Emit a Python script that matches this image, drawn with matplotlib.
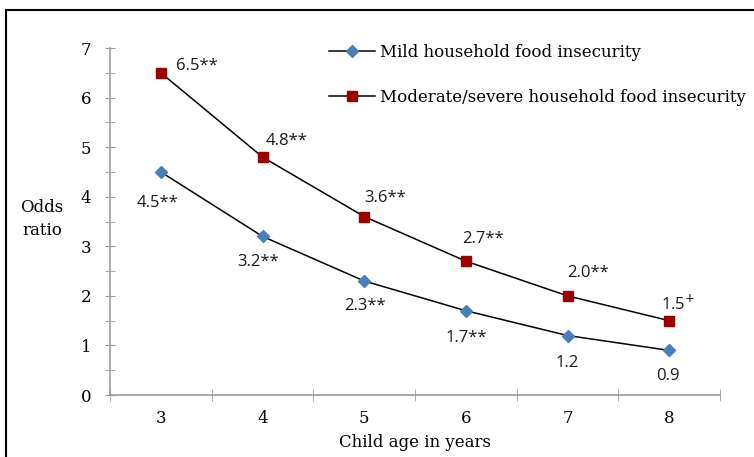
import numpy as np
import matplotlib.pyplot as plt
from matplotlib.patches import Rectangle
from matplotlib.ticker import MultipleLocator

ages = ['3', '4', '5', '6', '7', '8']
mild = [4.5, 3.2, 2.3, 1.7, 1.2, 0.9]
moderate = [6.5, 4.8, 3.6, 2.7, 2.0, 1.5]
mild_labels = ['4.5**', '3.2**', '2.3**', '1.7**', '1.2', '0.9']
moderate_labels = ['6.5**', '4.8**', '3.6**', '2.7**', '2.0**', '1.5$^{+}$']

# label offsets in pixels (layout only)
mod_off = [(36, 7), (24, 16), (21, 19), (17, 22), (20, 23), (9, 17)]
mild_off = [(-3, -31), (-4, -26), (1, -25), (0, -27), (0, -27), (-1, -26)]

serif = 'DejaVu Serif'
sans = 'Open Sans'

fig = plt.figure(figsize=(7.54, 4.57), dpi=100)
ax = fig.add_axes([110/754, 1 - 395/457, (720 - 110)/754, (395 - 48)/457])

x = np.arange(len(ages))
ax.plot(x, mild, color='black', lw=1.1, marker='D', ms=6,
        mfc='#4a7ebb', mec='#4a7ebb', label='Mild household food insecurity')
ax.plot(x, moderate, color='black', lw=1.1, marker='s', ms=7.5,
        mfc='#990000', mec='#990000', label='Moderate/severe household food insecurity')

for i in range(len(ages)):
    ax.annotate(moderate_labels[i], (x[i], moderate[i]), xytext=(mod_off[i][0]*0.72, mod_off[i][1]*0.72),
                textcoords='offset points', ha='center', va='center', fontsize=12, family=sans, color='#1a1a1a')
    ax.annotate(mild_labels[i], (x[i], mild[i]), xytext=(mild_off[i][0]*0.72, mild_off[i][1]*0.72),
                textcoords='offset points', ha='center', va='center', fontsize=12, family=sans, color='#1a1a1a')

ax.set_xlim(-0.5, len(ages) - 0.5)
ax.set_ylim(0, 7)
ax.set_xticks(x)
ax.set_xticklabels(ages, family=serif, fontsize=12)
ax.set_xticks(np.arange(-0.5, len(ages), 1), minor=True)
ax.tick_params(axis='x', which='major', length=0, pad=11)
ax.tick_params(axis='x', which='minor', length=8, direction='inout', color='#999999')
ax.yaxis.set_major_locator(MultipleLocator(1))
ax.yaxis.set_minor_locator(MultipleLocator(0.5))
ax.tick_params(axis='y', which='both', length=7, direction='inout', color='#999999', pad=10)
for lab in ax.get_yticklabels():
    lab.set_family(serif)
    lab.set_fontsize(12)

for s in ['top', 'right']:
    ax.spines[s].set_visible(False)
for s in ['left', 'bottom']:
    ax.spines[s].set_color('#999999')
    ax.spines[s].set_linewidth(1.2)

ax.set_xlabel('Child age in years', family=serif, fontsize=12, labelpad=5)
fig.text(42/754, 1 - 219/457, 'Odds\nratio', family=serif, fontsize=12, ha='center', va='center', linespacing=1.5)

leg = ax.legend(loc='upper left', bbox_to_anchor=(322/754, 1 - 37/457), bbox_transform=fig.transFigure,
                frameon=False, prop={'family': serif, 'size': 12}, handlelength=2.8,
                handletextpad=0.25, labelspacing=1.72, borderaxespad=0)

fig.patches.append(Rectangle((6/754, -0.2), 1.2, 1.2 - 10/457, transform=fig.transFigure,
                             fill=False, edgecolor='black', lw=1.5, clip_on=False))

fig.savefig('out.png', dpi=100)
